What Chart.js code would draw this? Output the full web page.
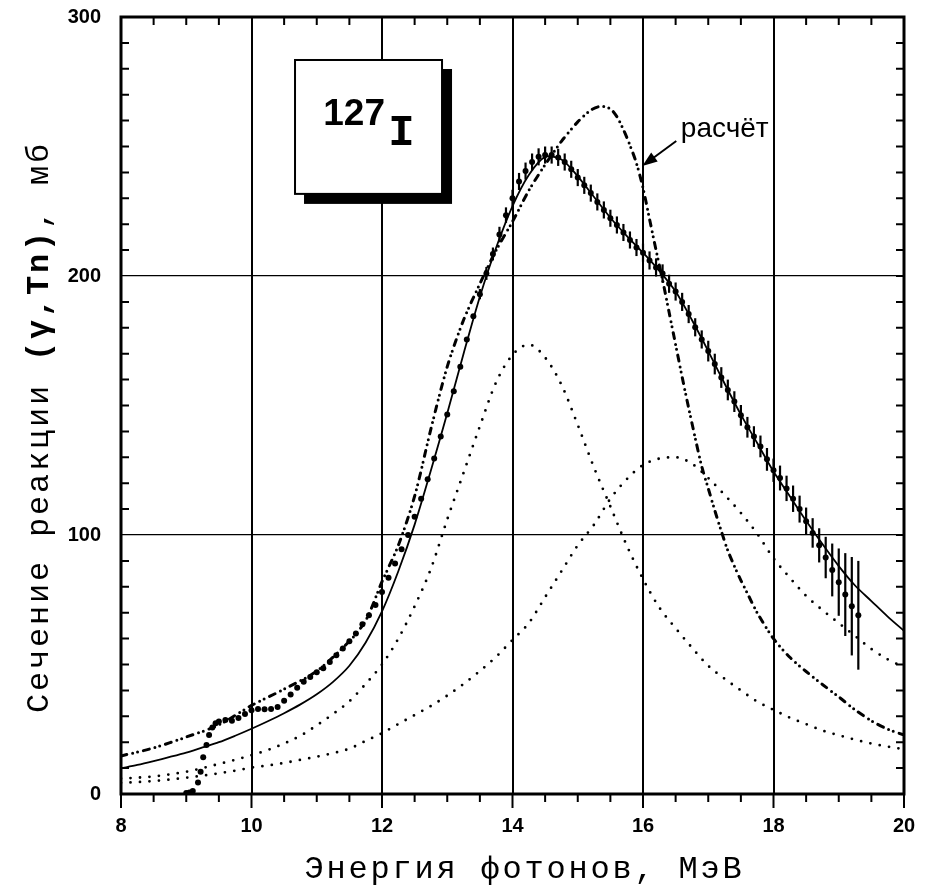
<!DOCTYPE html>
<html lang="ru">
<head>
<meta charset="utf-8">
<title>127I (γ,Tn)</title>
<script src="https://cdn.jsdelivr.net/npm/chart.js@4.4.1/dist/chart.umd.min.js"></script>
<style>
html,body{margin:0;padding:0;background:#ffffff;}
#box{position:relative;width:925px;height:893px;}
canvas{display:block;}
</style>
</head>
<body>
<div id="box"><canvas id="chart" width="925" height="893"></canvas></div>
<script>
// ---------- values ----------
// experimental points (γ,Tn)
const expEnergy = [
  9.00, 9.05, 9.10, 9.18, 9.22, 9.26, 9.31, 9.35, 9.40, 9.45,
  9.5, 9.6, 9.7, 9.8, 9.9,
  10.0, 10.1, 10.2, 10.3, 10.4, 10.5, 10.6, 10.7, 10.8, 10.9,
  11.0, 11.1, 11.2, 11.3, 11.4, 11.5, 11.6, 11.7, 11.8, 11.9,
  12.0, 12.1, 12.2, 12.3, 12.4, 12.5, 12.6, 12.7, 12.8, 12.9,
  13.0, 13.1, 13.2, 13.3, 13.4, 13.5, 13.6, 13.7, 13.8, 13.9,
  14.0, 14.1, 14.2, 14.3, 14.4, 14.5, 14.6, 14.7, 14.8, 14.9,
  15.0, 15.1, 15.2, 15.3, 15.4, 15.5, 15.6, 15.7, 15.8, 15.9,
  16.0, 16.1, 16.2, 16.3, 16.4, 16.5, 16.6, 16.7, 16.8, 16.9,
  17.0, 17.1, 17.2, 17.3, 17.4, 17.5, 17.6, 17.7, 17.8, 17.9,
  18.0, 18.1, 18.2, 18.3, 18.4, 18.5, 18.6, 18.7, 18.8, 18.9,
  19.0, 19.1, 19.2, 19.3
];
const expSigma = [
  0.4, 0.6, 1.2, 4.4, 8.6, 14.2, 18.9, 22.8, 25.7, 27.3,
  28.0, 28.6, 28.3, 29.3, 30.9,
  32.3, 32.8, 32.7, 32.8, 33.6, 36.0, 38.4, 41.0, 43.3, 45.2,
  47.0, 48.6, 51.0, 53.6, 56.2, 59.0, 62.0, 65.5, 69.0, 73.0,
  78.0, 83.5, 89.0, 94.5, 100.0, 107.0, 114.0, 121.5, 129.5, 138.0,
  146.5, 155.5, 165.0, 175.5, 184.5, 193.0, 201.0, 208.5, 216.0, 223.5,
  230.0, 236.5, 240.5, 244.0, 246.0, 246.7, 246.7, 245.8, 244.0, 241.2,
  238.0, 235.0, 232.0, 228.6, 225.5, 222.3, 219.7, 216.8, 213.9, 211.0,
  209.0, 206.0, 203.3, 201.0, 197.0, 194.0, 190.0, 185.3, 180.2, 175.5,
  171.0, 166.0, 160.8, 156.0, 151.5, 146.2, 141.6, 138.0, 134.2, 129.2,
  125.0, 122.0, 118.0, 114.0, 110.0, 105.3, 100.8, 96.0, 91.3, 86.5,
  81.8, 77.0, 72.5, 69.0
];
const expError = [
  0, 0, 0, 0, 0, 0, 0, 0, 0, 0,
  0, 0, 0, 0, 0,
  0, 0, 0, 0, 0, 0, 0, 0, 0, 0,
  0, 0, 0, 0, 0, 0, 0, 0, 0, 0,
  0, 0, 0, 0, 0, 0, 0, 0, 0, 0,
  0, 0, 0, 0, 0, 2.0, 2.5, 2.5, 3.0, 3.0,
  3.3, 3.3, 3.3, 3.3, 3.3, 3.3, 3.3, 3.3, 3.3, 3.3,
  3.3, 3.3, 3.3, 3.3, 3.3, 3.3, 3.3, 3.3, 3.3, 3.3,
  3.5, 3.5, 3.5, 3.5, 3.5, 3.5, 3.5, 3.5, 3.5, 3.5,
  4.0, 4.0, 4.0, 4.0, 4.0, 4.0, 4.0, 4.0, 4.2, 4.4,
  4.5, 4.8, 4.9, 5.1, 5.2, 5.3, 5.7, 6.6, 8.0, 10.2,
  13.0, 16.0, 19.0, 21.0
];

// fitted curves (solid = sum, dotted = two components)
const fitEnergy = [
  8.00, 8.25, 8.50, 8.75, 9.00, 9.25, 9.50, 9.75,
  10.00, 10.25, 10.50, 10.75, 11.00, 11.25, 11.50, 11.75,
  12.00, 12.25, 12.50, 12.75, 13.00, 13.25, 13.50, 13.75,
  14.00, 14.25, 14.50, 14.75, 15.00, 15.25, 15.50, 15.75,
  16.00, 16.25, 16.50, 16.75, 17.00, 17.25, 17.50, 17.75,
  18.00, 18.25, 18.50, 18.75, 19.00, 19.25, 19.50, 19.75, 20.00
];
const fitTotal = [
  9.9, 11.2, 12.7, 14.3, 16.0, 18.0, 20.0, 22.5,
  25.2, 28.1, 31.2, 34.6, 38.5, 43.3, 49.5, 58.5,
  70.5, 86.0, 104.0, 125.0, 147.0, 170.0, 192.0, 211.0,
  227.0, 239.0, 246.0, 245.0, 238.5, 230.5, 222.5, 215.5,
  209.0, 202.0, 194.0, 183.0, 171.0, 158.5, 146.5, 135.5,
  124.5, 115.0, 105.5, 96.5, 88.0, 80.5, 74.5, 68.5, 63.0
];
const fitLorentz1 = [
  6.0, 6.3, 6.8, 7.6, 8.6, 10.0, 11.6, 13.2,
  15.0, 17.0, 19.5, 22.5, 26.5, 30.9, 35.8, 42.5,
  50.0, 60.0, 72.5, 87.0, 106.0, 124.0, 142.0, 159.0,
  169.5, 173.5, 168.5, 158.0, 142.5, 126.0, 111.0, 96.0,
  83.0, 72.0, 64.0, 56.5, 49.5, 44.5, 40.0, 35.7,
  32.5, 29.5, 27.0, 24.5, 22.7, 21.0, 19.5, 18.3, 17.3
];
const fitLorentz2 = [
  4.3, 4.6, 5.0, 5.6, 6.3, 7.1, 8.0, 9.0,
  10.2, 11.0, 12.0, 13.2, 14.4, 15.8, 17.5, 20.5,
  23.5, 27.0, 30.5, 34.0, 38.0, 42.5, 47.5, 53.0,
  59.5, 66.0, 76.0, 86.0, 96.0, 104.0, 114.0, 121.5,
  127.0, 129.5, 130.0, 127.5, 122.0, 115.5, 108.5, 100.5,
  91.0, 83.5, 76.5, 71.0, 66.0, 61.0, 56.0, 52.0, 49.0
];

// calculation ("расчёт"), dash-dot-dot curve
const calcEnergy = [
  8.0, 8.5, 9.0, 9.5, 10.0, 10.5, 11.0, 11.5, 11.75,
  12.0, 12.25, 12.5, 12.75, 13.0, 13.25, 13.5, 13.75,
  14.0, 14.25, 14.5, 14.75, 15.0, 15.2, 15.35, 15.5, 15.6, 15.7, 15.8, 15.9,
  16.0, 16.1, 16.2, 16.3, 16.4, 16.5, 16.6, 16.7, 16.8, 16.9,
  17.0, 17.1, 17.2, 17.3, 17.4, 17.5, 17.6, 17.75, 18.0, 18.25, 18.5, 18.75,
  19.0, 19.25, 19.5, 19.75, 20.0
];
const calcSigma = [
  14.7, 17.8, 22.0, 26.7, 34.2, 40.5, 47.5, 59.0, 67.0,
  82.0, 96.0, 115.0, 141.0, 165.0, 183.0, 197.0, 210.0,
  221.0, 233.0, 243.0, 252.0, 259.5, 264.0, 265.5, 264.5, 261.5, 256.5, 250.5, 243.5,
  234.0, 222.0, 210.0, 198.5, 186.0, 173.5, 161.0, 149.0, 137.5, 126.5,
  118.0, 109.5, 101.5, 94.0, 88.0, 82.5, 77.5, 70.0, 60.0, 52.8, 47.3, 42.3,
  37.5, 32.5, 28.3, 25.0, 22.8
];

// axes
const xTickValues = [8, 10, 12, 14, 16, 18, 20];
const yTickValues = [0, 100, 200, 300];
const xMinorStep = 0.5;
const yMinorStep = 10;

// texts
const txt = {
  isotopeMass: '127',
  isotopeSymbol: 'I',
  calc: 'расчёт',
  xTitle: 'Энергия фотонов, МэВ',
  yTitle1: 'Сечение реакции ',
  yTitle2: '(γ,Tn)',
  yTitle3: ', мб'
};
// annotation anchors, in data units (E in MeV, sigma in mb)
const note = {
  boxE0: 10.667, boxE1: 12.92, boxTop: 283.4, boxBottom: 231.7,
  massE: 11.10, massS: 258.3, symbolE: 12.30, symbolS: 250.6,
  calcTextE: 16.58, calcTextS: 253.5,
  arrowFromE: 16.51, arrowFromS: 252.1, arrowToE: 15.99, arrowToS: 242.5
};

// ---------- drawing ----------
const pts = (xs, ys) => xs.map((v, i) => ({x: v, y: ys[i]}));

const decor = {
  id: 'decor',
  beforeDatasetsDraw(chart) {
    const {ctx, chartArea: a, scales: {x, y}} = chart;
    ctx.save();
    ctx.beginPath(); ctx.rect(a.left, a.top, a.right - a.left, a.bottom - a.top); ctx.clip();
    ctx.strokeStyle = '#000'; ctx.lineWidth = 2.2;
    expEnergy.forEach((e, i) => {
      const err = expError[i];
      if (!err) return;
      const px = x.getPixelForValue(e);
      ctx.beginPath();
      ctx.moveTo(px, y.getPixelForValue(expSigma[i] - err));
      ctx.lineTo(px, y.getPixelForValue(expSigma[i] + err));
      ctx.stroke();
    });
    ctx.restore();
  },
  afterDraw(chart) {
    const {ctx, chartArea: a, scales: {x, y}} = chart;
    ctx.save();
    ctx.strokeStyle = '#000'; ctx.fillStyle = '#000';
    // minor / major ticks
    ctx.lineWidth = 2;
    for (let v = x.min; v <= x.max + 1e-9; v += xMinorStep) {
      const px = x.getPixelForValue(v);
      const major = xTickValues.some(t => Math.abs(t - v) < 1e-6);
      ctx.beginPath();
      if (!major) { ctx.moveTo(px, a.top); ctx.lineTo(px, a.top + 8); }
      ctx.moveTo(px, a.bottom); ctx.lineTo(px, a.bottom + (major ? 14 : 8));
      ctx.stroke();
    }
    for (let v = y.min; v <= y.max + 1e-9; v += yMinorStep) {
      const py = y.getPixelForValue(v);
      const major = yTickValues.some(t => Math.abs(t - v) < 1e-6);
      ctx.beginPath();
      if (!major) { ctx.moveTo(a.left, py); ctx.lineTo(a.left + 8, py); }
      ctx.moveTo(a.right - 8, py); ctx.lineTo(a.right, py);
      ctx.stroke();
    }
    // frame
    ctx.lineWidth = 3;
    ctx.strokeRect(a.left, a.top, a.right - a.left, a.bottom - a.top);

    // isotope box with shadow
    const bx1 = x.getPixelForValue(note.boxE0), bx2 = x.getPixelForValue(note.boxE1);
    const by1 = y.getPixelForValue(note.boxTop), by2 = y.getPixelForValue(note.boxBottom);
    ctx.fillStyle = '#000';
    ctx.fillRect(bx1 + 9, by1 + 9, bx2 - bx1 + 1, by2 - by1 + 1);
    ctx.fillStyle = '#fff';
    ctx.fillRect(bx1, by1, bx2 - bx1, by2 - by1);
    ctx.lineWidth = 2;
    ctx.strokeRect(bx1, by1, bx2 - bx1, by2 - by1);
    ctx.fillStyle = '#000';
    ctx.textBaseline = 'alphabetic';
    ctx.textAlign = 'left';
    ctx.font = 'bold 37px "Liberation Sans", Arial, sans-serif';
    ctx.fillText(txt.isotopeMass, x.getPixelForValue(note.massE), y.getPixelForValue(note.massS));
    ctx.textAlign = 'center';
    ctx.font = 'bold 44px "Liberation Mono", "Courier New", monospace';
    ctx.fillText(txt.isotopeSymbol, x.getPixelForValue(note.symbolE), y.getPixelForValue(note.symbolS));

    // "расчёт" label with arrow
    ctx.textAlign = 'left';
    ctx.font = '28px "Liberation Sans", Arial, sans-serif';
    ctx.fillText(txt.calc, x.getPixelForValue(note.calcTextE), y.getPixelForValue(note.calcTextS));
    const ax0 = x.getPixelForValue(note.arrowFromE), ay0 = y.getPixelForValue(note.arrowFromS);
    const ax1 = x.getPixelForValue(note.arrowToE), ay1 = y.getPixelForValue(note.arrowToS);
    const ang = Math.atan2(ay1 - ay0, ax1 - ax0);
    ctx.lineWidth = 2;
    ctx.beginPath(); ctx.moveTo(ax0, ay0); ctx.lineTo(ax1 - 8 * Math.cos(ang), ay1 - 8 * Math.sin(ang)); ctx.stroke();
    ctx.beginPath();
    ctx.moveTo(ax1, ay1);
    ctx.lineTo(ax1 - 15 * Math.cos(ang) + 5.5 * Math.sin(ang), ay1 - 15 * Math.sin(ang) - 5.5 * Math.cos(ang));
    ctx.lineTo(ax1 - 15 * Math.cos(ang) - 5.5 * Math.sin(ang), ay1 - 15 * Math.sin(ang) + 5.5 * Math.cos(ang));
    ctx.closePath(); ctx.fill();

    // axis titles (monospace, Courier-like)
    const fs = 32, ls = 2.8, adv = fs * 0.6 + ls;
    ctx.letterSpacing = ls + 'px';
    ctx.textBaseline = 'alphabetic';
    ctx.textAlign = 'left';
    ctx.font = fs + 'px "Liberation Mono", "Courier New", monospace';
    const xtW = txt.xTitle.length * adv;
    ctx.fillText(txt.xTitle, (a.left + a.right) / 2 + 12 - xtW / 2, a.bottom + 84);

    ctx.translate(48, a.bottom - 81);
    ctx.rotate(-Math.PI / 2);
    let off = 0;
    ctx.font = fs + 'px "Liberation Mono", "Courier New", monospace';
    ctx.fillText(txt.yTitle1, off, 0); off += txt.yTitle1.length * adv;
    ctx.font = 'bold ' + fs + 'px "Liberation Mono", "Courier New", monospace';
    ctx.fillText(txt.yTitle2, off, 0); off += txt.yTitle2.length * adv;
    ctx.font = fs + 'px "Liberation Mono", "Courier New", monospace';
    ctx.fillText(txt.yTitle3, off, 0);
    ctx.restore();
  }
};

new Chart(document.getElementById('chart'), {
  type: 'scatter',
  data: {
    datasets: [
      { label: 'Lorentz 1', data: pts(fitEnergy, fitLorentz1), showLine: true, pointRadius: 0,
        borderColor: '#000', borderWidth: 2.8, borderDash: [0, 9.5], borderCapStyle: 'round',
        cubicInterpolationMode: 'monotone' },
      { label: 'Lorentz 2', data: pts(fitEnergy, fitLorentz2), showLine: true, pointRadius: 0,
        borderColor: '#000', borderWidth: 2.8, borderDash: [0, 9.5], borderCapStyle: 'round',
        cubicInterpolationMode: 'monotone' },
      { label: 'расчёт', data: pts(calcEnergy, calcSigma), showLine: true, pointRadius: 0,
        borderColor: '#000', borderWidth: 3, borderDash: [6, 6, 0, 5, 0, 6], borderCapStyle: 'round',
        tension: 0.3 },
      { label: 'fit', data: pts(fitEnergy, fitTotal), showLine: true, pointRadius: 0,
        borderColor: '#000', borderWidth: 1.8, tension: 0.3 },
      { label: 'эксперимент', data: pts(expEnergy, expSigma), showLine: false,
        pointRadius: 3, pointBackgroundColor: '#000', pointBorderColor: '#000', pointBorderWidth: 0 }
    ]
  },
  options: {
    responsive: false,
    animation: false,
    devicePixelRatio: 1,
    layout: { padding: { left: 0, top: 17, right: 21, bottom: 0 } },
    plugins: { legend: { display: false }, tooltip: { enabled: false } },
    events: [],
    scales: {
      x: {
        type: 'linear', min: 8, max: 20,
        afterBuildTicks: s => { s.ticks = xTickValues.map(v => ({value: v})); },
        afterFit: s => { s.height = 99; s.paddingLeft = 0; s.paddingRight = 0; },
        grid: { color: '#000', lineWidth: 2, drawTicks: false },
        border: { display: false },
        ticks: { color: '#000', padding: 20, maxRotation: 0,
          font: { family: '"Liberation Sans", Arial, sans-serif', size: 20, weight: 'bold' } }
      },
      y: {
        type: 'linear', min: 0, max: 300,
        afterBuildTicks: s => { s.ticks = yTickValues.map(v => ({value: v})); },
        afterFit: s => { s.width = 121; s.paddingTop = 0; s.paddingBottom = 0; },
        grid: { color: '#000', lineWidth: 1.2, drawTicks: false },
        border: { display: false },
        ticks: { color: '#000', padding: 20,
          font: { family: '"Liberation Sans", Arial, sans-serif', size: 20, weight: 'bold' } }
      }
    }
  },
  plugins: [decor]
});
</script>
</body>
</html>
